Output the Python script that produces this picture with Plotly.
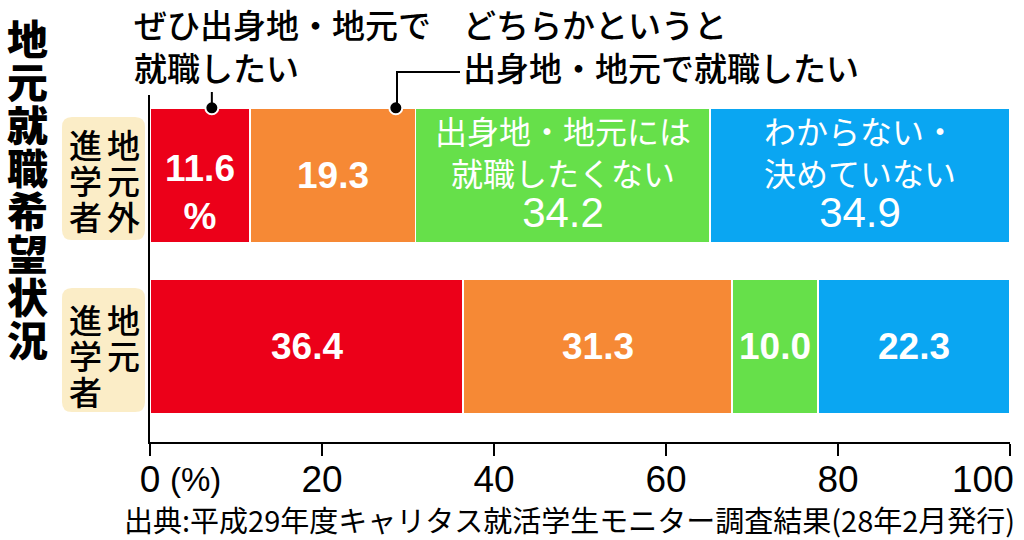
import plotly.graph_objects as go

# 地元就職希望状況 (%)
groups = ["地元進学者", "地元外進学者"]
series_names = ["ぜひ出身地・地元で就職したい", "どちらかというと出身地・地元で就職したい",
                "出身地・地元には就職したくない", "わからない・決めていない"]
local_vals = [36.4, 31.3, 10.0, 22.3]
outside_vals = [11.6, 19.3, 34.2, 34.9]
colors = ["#EC0019", "#F68935", "#66E04A", "#0AA6F2"]
x_ticks = [0, 20, 40, 60, 80, 100]

JP = "Noto Sans CJK JP"
NUM = "Liberation Sans, Noto Sans CJK JP"

# pixel helpers for the decoration that sits outside the plot area
L, R, T, B = 150, 1010, 95, 442
def px(x):
    return (x - L) / (R - L)
def py(y):
    return (B - y) / (B - T)

ypos = [0, 1]
fig = go.Figure()
for i, name in enumerate(series_names):
    fig.add_trace(go.Bar(
        y=ypos, x=[local_vals[i], outside_vals[i]], name=name, orientation="h",
        marker=dict(color=colors[i], line=dict(color="white", width=1.5)),
        width=0.79, hoverinfo="x+name", showlegend=False,
    ))

# labels inside the segments
prefix = {1: ["", "", "出身地・地元には<br>就職したくない<br>", "わからない・<br>決めていない<br>"],
          0: ["", "", "", ""]}
for yp, vals in zip(ypos, [local_vals, outside_vals]):
    left = 0
    for i, v in enumerate(vals):
        shift = 0
        if yp == 1 and i == 0:
            txt = f"<b>{v:.1f}<br>%</b>"
            shift = -17
        elif prefix[yp][i]:
            txt = prefix[yp][i] + f"<span style='font-size:42px'>{v:.1f}</span>"
        else:
            txt = f"<b>{v:.1f}</b>"
        size = 37 if not prefix[yp][i] else 32
        fig.add_annotation(x=left + v / 2, y=yp, text=txt, showarrow=False, yshift=shift,
                           font=dict(family=NUM, size=size, color="white"))
        left += v

# pointer dots for the two categories named above the chart
dot_x = [outside_vals[0] * 0.62, outside_vals[0] + outside_vals[1] * 0.88]
fig.add_trace(go.Scatter(
    x=dot_x, y=[1.395, 1.395], mode="markers", cliponaxis=False, showlegend=False,
    marker=dict(color="black", size=13, line=dict(color="white", width=2)),
    hoverinfo="skip",
))
fig.add_shape(type="line", xref="x", yref="paper", x0=dot_x[0], x1=dot_x[0],
              y0=py(108), y1=py(92), line=dict(color="black", width=2))
fig.add_shape(type="path", xref="paper", yref="paper",
              path=f"M {px(397)},{py(108)} L {px(397)},{py(72)} L {px(460)},{py(72)}",
              line=dict(color="black", width=2))

fig.add_annotation(xref="paper", yref="paper", x=px(133), y=py(-1), xanchor="left", yanchor="top",
                   text="ぜひ出身地・地元で<br>就職したい", showarrow=False, align="left", borderpad=0,
                   font=dict(family=JP, size=33, color="black", weight=500))
fig.add_annotation(xref="paper", yref="paper", x=px(462), y=py(-1), xanchor="left", yanchor="top",
                   text="どちらかというと<br>出身地・地元で就職したい", showarrow=False, align="left",
                   borderpad=0, font=dict(family=JP, size=33, color="black", weight=500))

# group labels: vertical text on beige boxes
def rounded(x0, y0, x1, y1, r=10):
    return (f"M {px(x0 + r)},{py(y0)} L {px(x1 - r)},{py(y0)} Q {px(x1)},{py(y0)} {px(x1)},{py(y0 + r)} "
            f"L {px(x1)},{py(y1 - r)} Q {px(x1)},{py(y1)} {px(x1 - r)},{py(y1)} "
            f"L {px(x0 + r)},{py(y1)} Q {px(x0)},{py(y1)} {px(x0)},{py(y1 - r)} "
            f"L {px(x0)},{py(y0 + r)} Q {px(x0)},{py(y0)} {px(x0 + r)},{py(y0)} Z")

def vtext(s, xc, yc0, pitch, size, weight="normal"):
    for k, ch in enumerate(s):
        fig.add_annotation(xref="paper", yref="paper", x=px(xc), y=py(yc0 + k * pitch),
                           xanchor="center", yanchor="middle", text=ch, showarrow=False,
                           borderpad=0, font=dict(family=JP, size=size, color="black", weight=weight))

box_y = {"地元外進学者": (117, 240), "地元進学者": (288, 412)}
first_char_y = {"地元外進学者": 144, "地元進学者": 319}
for g in groups:
    y0, y1 = box_y[g]
    fig.add_shape(type="path", xref="paper", yref="paper", path=rounded(62, y0, 145, y1),
                  fillcolor="#FBEDC7", line=dict(width=0), layer="below")
    vtext(g[:-3], 123, first_char_y[g], 36, 33, 500)
    vtext(g[-3:], 85, first_char_y[g], 36, 33, 500)

# vertical title
vtext("地元就職希望状況", 27, 37, 43, 41, 900)

# the last tick label sits left of its tick, so it is written separately
tick_text = [str(t) for t in x_ticks]
tick_text[-1] = ""
fig.add_annotation(xref="x", yref="paper", x=x_ticks[-1], y=py(479), xanchor="right", yanchor="middle",
                   xshift=6, text=str(x_ticks[-1]), showarrow=False,
                   font=dict(family=NUM, size=37, color="black"))
fig.add_annotation(xref="paper", yref="paper", x=px(168), y=py(479), xanchor="left", yanchor="middle",
                   text="(%)", showarrow=False, font=dict(family=NUM, size=33, color="black"))
fig.add_annotation(xref="paper", yref="paper", x=px(1016), y=py(519), xanchor="right", yanchor="middle",
                   text="出典:平成29年度キャリタス就活学生モニター調査結果(28年2月発行)",
                   showarrow=False, borderpad=0, font=dict(family=JP, size=29, color="black"))

fig.update_layout(
    width=1024, height=540, barmode="stack",
    margin=dict(l=L, r=1024 - R, t=T, b=540 - B),
    plot_bgcolor="white", paper_bgcolor="white",
    xaxis=dict(range=[0, 100], tickvals=x_ticks, ticktext=tick_text, showgrid=False, zeroline=False,
               showline=True, linecolor="black", linewidth=2, ticks="outside", ticklen=12,
               tickwidth=2, tickcolor="black", automargin=False, ticklabelstandoff=-8,
               tickfont=dict(family=NUM, size=37, color="black")),
    yaxis=dict(range=[-0.56, 1.47], showticklabels=False, showgrid=False, zeroline=False,
               showline=True, linecolor="black", linewidth=2, ticks="", automargin=False),
)

fig.write_html("out.html", config={"displayModeBar": False},
               post_script="document.body.style.margin='0';")
